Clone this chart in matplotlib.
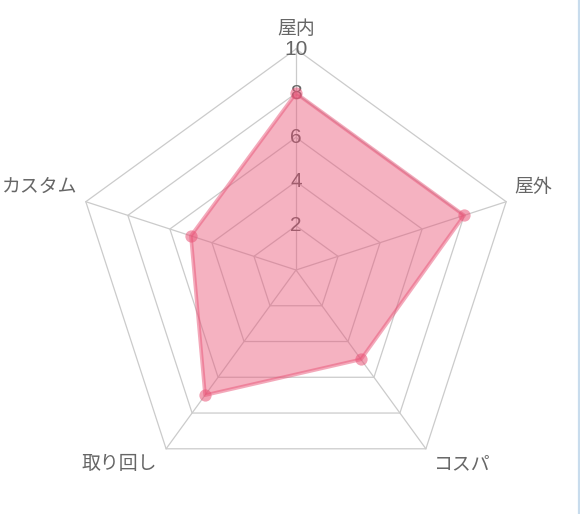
import numpy as np
import matplotlib
matplotlib.use("Agg")
import matplotlib.pyplot as plt
from matplotlib.lines import Line2D

plt.rcParams['font.family'] = ['Noto Sans CJK JP', 'DejaVu Sans']

categories = ["屋内", "屋外", "コスパ", "取り回し", "カスタム"]
values = [8, 8, 5, 7, 5]
ticks = [2, 4, 6, 8, 10]
tick_labels = ["2", "4", "6", "8", "10"]

W, H = 580, 514
fig = plt.figure(figsize=(W / 100, H / 100), dpi=100)
cx, cy, R = 296, 270, 221
ax = fig.add_axes([(cx - R) / W, 1 - (cy + R) / H, 2 * R / W, 2 * R / H], projection='polar')
ax.set_theta_offset(np.pi / 2)
ax.set_theta_direction(-1)
ax.set_ylim(0, 10)
ax.axis('off')

n = len(categories)
angles = np.arange(n) * 2 * np.pi / n
closed = np.concatenate([angles, angles[:1]])

grid_col = '#cbcbcb'
for t in ticks:
    ax.plot(closed, [t] * (n + 1), color=grid_col, lw=0.9, zorder=1, clip_on=False)
for a in angles:
    ax.plot([a, a], [0, 10], color=grid_col, lw=0.9, zorder=1, clip_on=False)

for t, lab in zip(ticks, tick_labels):
    ax.text(0, t, lab, ha='center', va='center', fontsize=15, color='#666666',
            family=['Liberation Sans', 'DejaVu Sans'], zorder=2)

vals = values + values[:1]
base = (233 / 255, 84 / 255, 119 / 255)
ax.fill(closed, vals, color=base, alpha=0.45, lw=0, zorder=3)
ax.plot(closed, vals, color=base, alpha=0.5, lw=2.6, zorder=4)
ax.scatter(angles, values, s=78, color=base, alpha=0.55, lw=0, zorder=5)

offsets = [(0, 15, 'center'), (5.8, 10.8, 'left'), (5.8, -10.8, 'left'),
           (-6.5, -10.8, 'right'), (-5.8, 10.8, 'right')]
for a, lab, (dx, dy, ha) in zip(angles, categories, offsets):
    ax.annotate(lab, xy=(a, 10), xytext=(dx, dy), textcoords='offset points',
                ha=ha, va='center', fontsize=13.6, color='#666666',
                annotation_clip=False)

fig.add_artist(Line2D([578.5 / W, 578.5 / W], [0, 1], color='#c8dced', lw=1.6,
                      transform=fig.transFigure))

fig.savefig('out.png', dpi=100, facecolor='white')
